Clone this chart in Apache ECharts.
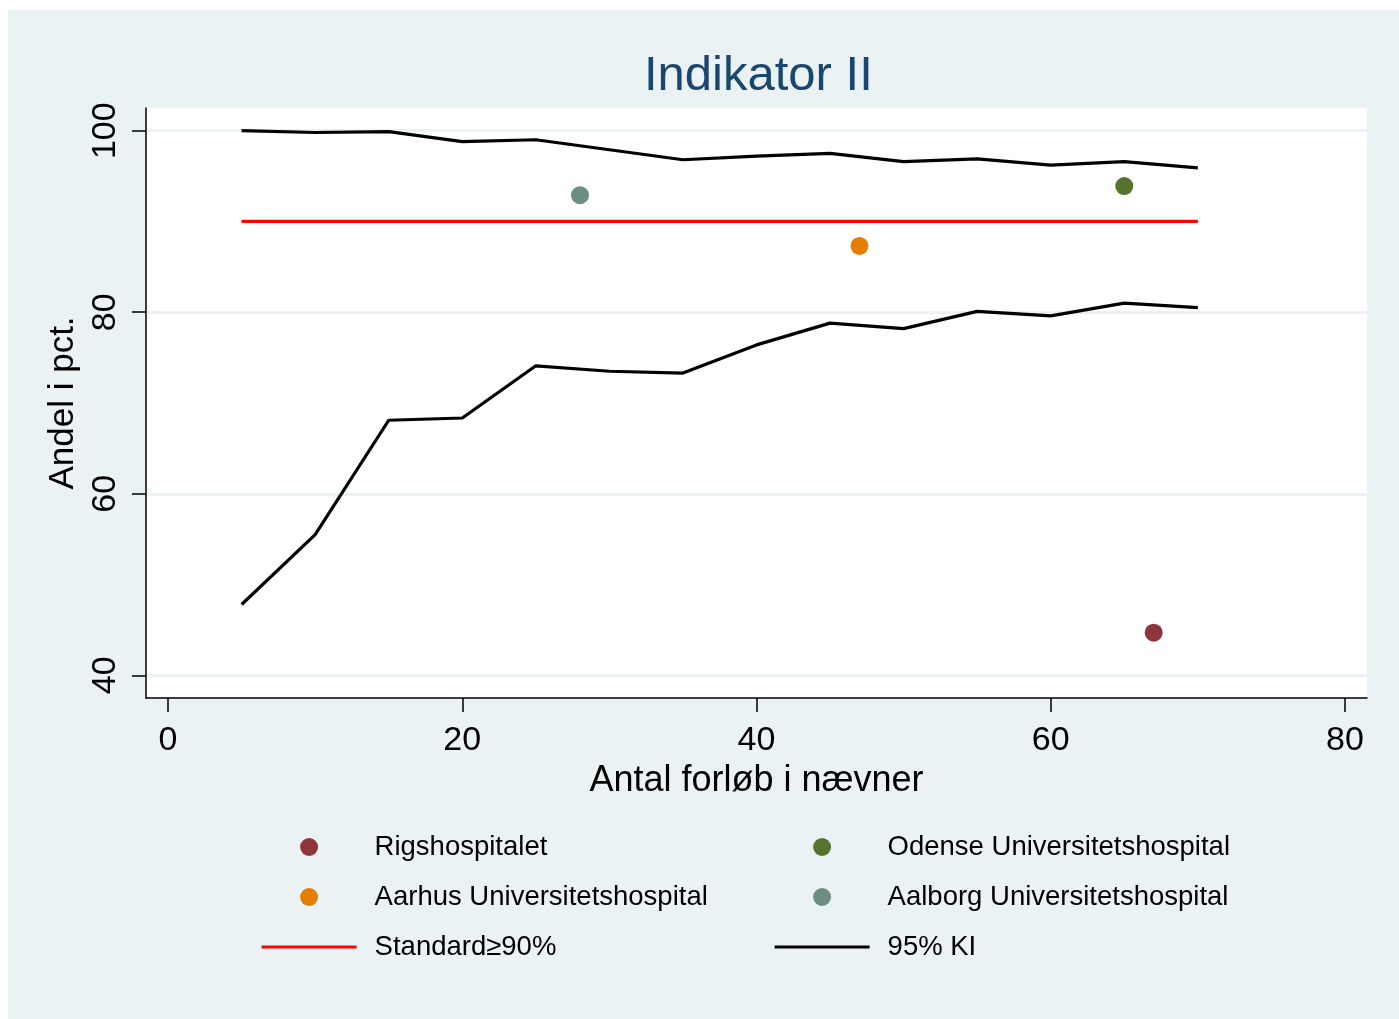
<!DOCTYPE html>
<html>
<head>
<meta charset="utf-8">
<script src="https://cdn.jsdelivr.net/npm/echarts@6/dist/echarts.min.js"></script>
<style>
html,body{margin:0;padding:0;background:#ffffff;}
#chart{width:1399px;height:1019px;}
</style>
</head>
<body>
<div id="chart"></div>
<script>
// ---- data ----
const ciX = [5, 10, 15, 20, 25, 30, 35, 40, 45, 50, 55, 60, 65, 70];
const ciUpper = [100.0, 99.8, 99.9, 98.8, 99.0, 97.9, 96.8, 97.2, 97.5, 96.6, 96.9, 96.2, 96.6, 95.9];
const ciLower = [47.8, 55.5, 68.1, 68.35, 74.1, 73.5, 73.3, 76.4, 78.8, 78.2, 80.1, 79.6, 81.0, 80.5];
const standardX = [5, 70];
const standardY = [90, 90];
const hospitals = ['Rigshospitalet', 'Odense Universitetshospital', 'Aarhus Universitetshospital', 'Aalborg Universitetshospital'];
const hospitalN = [67, 65, 47, 28];
const hospitalPct = [44.7, 93.9, 87.3, 92.9];
const hospitalColors = ['#90353b', '#55752f', '#e37e00', '#6e8e84'];
const xTicks = [0, 20, 40, 60, 80];
const yTicks = [40, 60, 80, 100];

const FONT = '"Liberation Sans", Arial, Helvetica, sans-serif';

const chart = echarts.init(document.getElementById('chart'), null, {renderer: 'canvas'});

const zip = (xs, ys) => xs.map((x, i) => [x, ys[i]]);

const series = [];
hospitals.forEach((h, i) => {
  series.push({
    name: h,
    type: 'scatter',
    data: [[hospitalN[i], hospitalPct[i]]],
    symbol: 'circle',
    symbolSize: 18,
    itemStyle: {color: hospitalColors[i], opacity: 1},
    z: 5
  });
});
series.push({
  name: 'Standard≥90%',
  type: 'line',
  data: zip(standardX, standardY),
  symbol: 'none',
  lineStyle: {color: '#ff0000', width: 3.2},
  itemStyle: {color: '#ff0000'},
  z: 3
});
series.push({
  name: '95% KI',
  type: 'line',
  data: zip(ciX, ciUpper),
  symbol: 'none',
  lineStyle: {color: '#000000', width: 3.2},
  itemStyle: {color: '#000000'},
  z: 4
});
series.push({
  name: '95% KI',
  type: 'line',
  data: zip(ciX, ciLower),
  symbol: 'none',
  lineStyle: {color: '#000000', width: 3.2},
  itemStyle: {color: '#000000'},
  z: 4
});

const legendCommon = {
  orient: 'vertical',
  top: 833,
  padding: 0,
  itemWidth: 95,
  itemHeight: 18,
  itemGap: 22,
  selectedMode: false,
  textStyle: {fontFamily: FONT, fontSize: 27.5, color: '#000000', lineHeight: 18, padding: [0, 0, 0, 13]}
};
const lineLegendItem = (name, color) => ({
  name: name,
  itemStyle: {opacity: 0},
  lineStyle: {color: color, width: 3.2}
});

const option = {
  backgroundColor: '#ffffff',
  animation: false,
  graphic: [{
    type: 'rect',
    left: 8, top: 10,
    shape: {width: 1391, height: 1009},
    style: {fill: '#eaf2f3'},
    z: -10, silent: true
  }],
  title: {
    text: 'Indikator II',
    left: 639,
    top: 47,
    textStyle: {fontFamily: FONT, fontSize: 49, fontWeight: 'normal', color: '#1a476f'}
  },
  legend: [
    Object.assign({}, legendCommon, {left: 260, data: ['Rigshospitalet', 'Aarhus Universitetshospital', lineLegendItem('Standard≥90%', '#ff0000')]}),
    Object.assign({}, legendCommon, {left: 773, data: ['Odense Universitetshospital', 'Aalborg Universitetshospital', lineLegendItem('95% KI', '#000000')]})
  ],
  grid: {
    left: 146, top: 108, right: 32, bottom: 321,
    show: true, backgroundColor: '#ffffff', borderWidth: 0,
    containLabel: false
  },
  xAxis: {
    type: 'value',
    min: -1.5, max: 81.5,
    name: 'Antal forløb i nævner',
    nameLocation: 'middle',
    nameGap: 55,
    nameTextStyle: {fontFamily: FONT, fontSize: 36, color: '#000000'},
    axisLine: {show: true, onZero: false, lineStyle: {color: '#000000', width: 1.5}},
    axisTick: {show: true, length: 14, customValues: xTicks, lineStyle: {color: '#000000', width: 1.5}},
    axisLabel: {customValues: xTicks, margin: 26, fontFamily: FONT, fontSize: 34, color: '#000000'},
    splitLine: {show: false}
  },
  yAxis: {
    type: 'value',
    min: 37.5, max: 102.5,
    name: 'Andel i pct.',
    nameLocation: 'middle',
    nameGap: 54,
    nameTextStyle: {fontFamily: FONT, fontSize: 35, color: '#000000'},
    axisLine: {show: true, onZero: false, lineStyle: {color: '#000000', width: 1.5}},
    axisTick: {show: true, length: 14, customValues: yTicks, lineStyle: {color: '#000000', width: 1.5}},
    axisLabel: {customValues: yTicks, rotate: 90, margin: 23, fontFamily: FONT, fontSize: 34, color: '#000000'},
    splitLine: {show: true, lineStyle: {color: '#eaf2f3', width: 3}}
  },
  series: series
};

chart.setOption(option);
</script>
</body>
</html>
